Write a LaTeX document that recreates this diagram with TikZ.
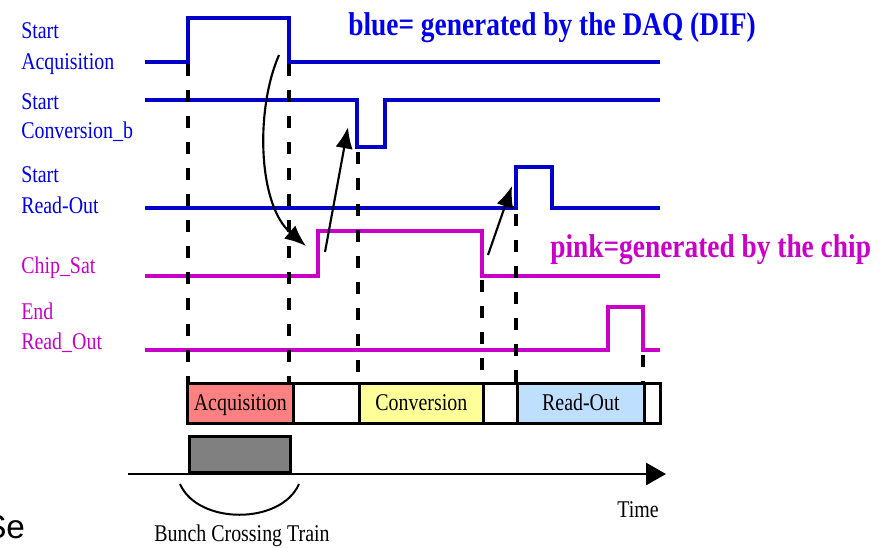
\documentclass[tikz,border=0pt]{standalone}
\usepackage{fontspec}
\setmainfont[FakeStretch=0.83]{Liberation Serif}
\newfontfamily\labelsans{Liberation Sans}
\usetikzlibrary{arrows.meta}

\definecolor{daqblue}{RGB}{0,0,200}
\definecolor{daqtext}{RGB}{0,0,235}
\definecolor{chipmag}{RGB}{200,0,200}
\definecolor{acqred}{RGB}{255,128,128}
\definecolor{convyellow}{RGB}{255,255,153}
\definecolor{roblue}{RGB}{191,223,255}
\definecolor{traingray}{RGB}{128,128,128}

\begin{document}
\begin{tikzpicture}[x=0.75pt,y=-0.75pt,
  sig/.style={line width=3pt},
  daq/.style={sig, draw=daqblue},
  chip/.style={sig, draw=chipmag},
  guide/.style={line width=2.3pt, dash pattern=on 9pt off 10.5pt},
  lbl/.style={anchor=base west, inner sep=0pt, font=\fontsize{18}{20}\selectfont},
  daqlbl/.style={lbl, text=daqtext},
  chiplbl/.style={lbl, text=chipmag},
  legend/.style={anchor=base west, inner sep=0pt, font=\bfseries\fontsize{24.75}{28}\selectfont},
  seg/.style={draw, line width=2pt, anchor=north west, inner sep=0pt,
              minimum height=30pt, text height=12.5pt, text depth=2pt,
              font=\fontsize{18}{20}\selectfont},
  cause/.style={line width=1.6pt, -{Latex[length=16pt,width=13pt]}},
]
\useasboundingbox (0,0) rectangle (885,547);

% signal names
\node[daqlbl] (sa1) at (21,38) {Start};
\node[daqlbl] (sa2) at (21,69) {Acquisition};
\node[daqlbl] (sc1) at (21,109) {Start};
\node[daqlbl] (sc2) at (21,138) {Conversion\_b};
\node[daqlbl] (sr1) at (21,182) {Start};
\node[daqlbl] (sr2) at (21,213) {Read-Out};
\node[chiplbl] (cs) at (21,273) {Chip\_Sat};
\node[chiplbl] (er1) at (21,319) {End};
\node[chiplbl] (er2) at (21,349) {Read\_Out};

% legends
\node[legend, text=daqtext] (lgblue) at (348,35) {blue= generated by the DAQ (DIF)};
\node[legend, text=chipmag] (lgpink) at (550,257) {pink=generated by the chip};

% waveforms
\draw[daq] (145,62) -- (188,62) -- (188,18) -- (289,18) -- (289,62) -- (660,62);
\draw[daq] (145,100) -- (357,100) -- (357,147) -- (385,147) -- (385,100) -- (660,100);
\draw[daq] (145,208) -- (516,208) -- (516,167) -- (552,167) -- (552,208) -- (660,208);
\draw[chip] (145,276) -- (318,276) -- (318,231) -- (482,231) -- (482,276) -- (660,276);
\draw[chip] (145,350) -- (608,350) -- (608,307) -- (643,307) -- (643,350) -- (660,350);

% phase bar
\node[seg, fill=acqred, minimum width=79.5pt] (acq) at (186,382) {Acquisition};
\node[seg, fill=white, minimum width=49.5pt] (gap1) at (292,382) {};
\node[seg, fill=convyellow, minimum width=93pt] (conv) at (358,382) {Conversion};
\node[seg, fill=white, minimum width=25.5pt] (gap2) at (482,382) {};
\node[seg, fill=roblue, minimum width=95.25pt] (ro) at (516,382) {Read-Out};
\node[seg, fill=white, minimum width=12pt] (gap3) at (643,382) {};

% timing guides
\draw[guide] (188,64) -- (188,382);
\draw[guide] (289,64) -- (289,382);
\draw[guide] (358,152) -- (conv.north west);
\draw[guide] (482,280) -- (gap2.north west);
\draw[guide] (516,214) -- (ro.north west);
\draw[guide] (643,355) -- (gap3.north west);

% causal arrows
\coordinate (c1s) at (279,55);
\coordinate (c1e) at (306,246);
\coordinate (c2s) at (325,252);
\coordinate (c2e) at (348,127);
\coordinate (c3s) at (488,255);
\coordinate (c3e) at (512,186);
\draw[cause] (c1s) .. controls (255,110) and (258,205) .. (c1e);
\draw[cause] (c2s) -- (c2e);
\draw[cause] (c3s) -- (c3e);

% bunch crossing train and time axis
\node[draw, line width=2pt, fill=traingray, anchor=south west, inner sep=0pt,
      minimum width=75.75pt, minimum height=27pt] (train) at (188,474) {};
\coordinate (t0) at (128,474);
\coordinate (t1) at (666,474);
\draw[line width=2.2pt, -{Triangle[length=15pt,width=16.5pt]}] (t0) -- (t1);
\coordinate (b0) at (180,484);
\coordinate (b1) at (299,484);
\draw[line width=1.5pt] (b0) .. controls (198,525) and (281,525) .. (b1);
\node[lbl, anchor=base] (bct) at (242,541) {Bunch Crossing Train};
\node[lbl, anchor=base] (time) at (638,517) {Time};

\node[anchor=base west, inner sep=0pt, font=\labelsans\fontsize{25}{28}\selectfont] (se) at (-16,538) {Se};
\end{tikzpicture}
\end{document}
